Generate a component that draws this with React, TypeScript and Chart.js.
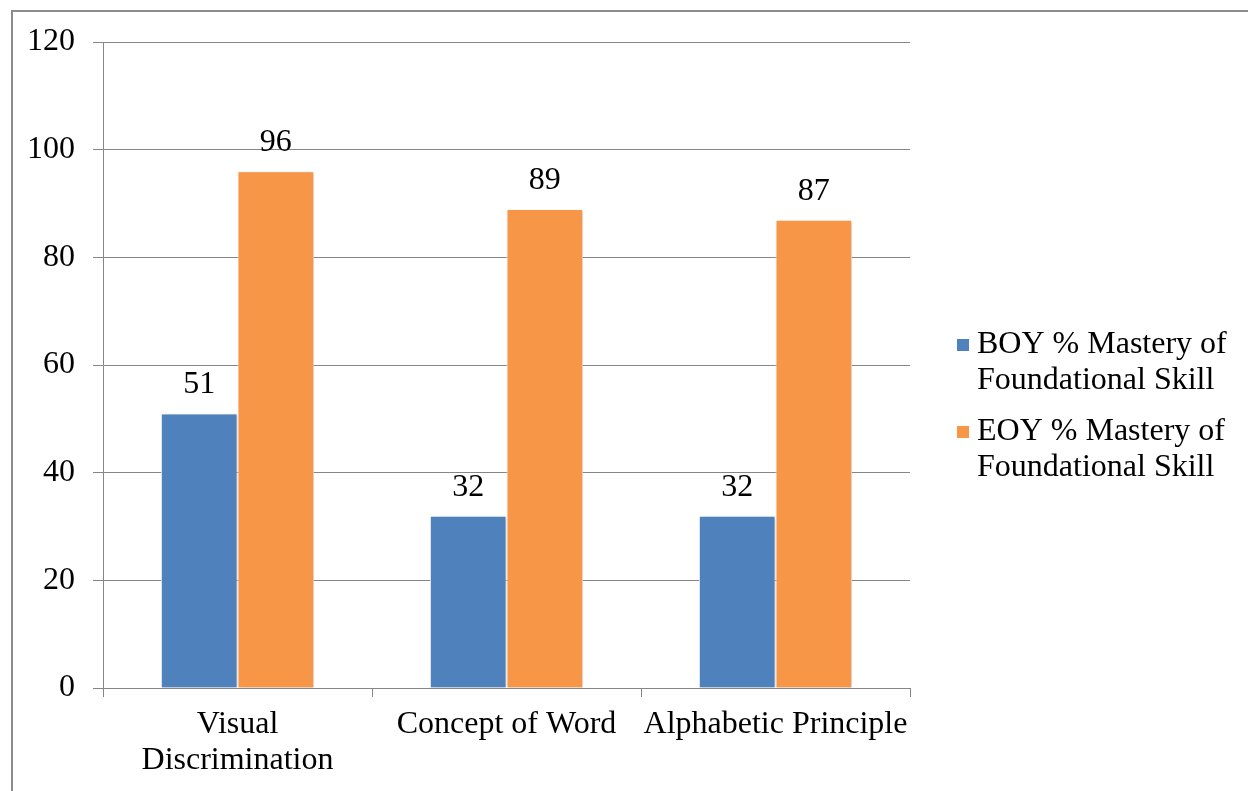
import React, { useEffect, useRef } from "react";
import { Chart, registerables } from "chart.js";

Chart.register(...registerables);

const categories: (string | string[])[] = [["Visual", "Discrimination"], "Concept of Word", "Alphabetic Principle"];
const boyValues = [51, 32, 32];
const eoyValues = [96, 89, 87];
const seriesNames = [
  ["BOY % Mastery of", "Foundational Skill"],
  ["EOY % Mastery of", "Foundational Skill"],
];
const seriesColors = ["#4F81BD", "#F79646"];

const FONT = "'Liberation Serif', 'Times New Roman', serif";

export default function App() {
  const ref = useRef<HTMLCanvasElement | null>(null);

  useEffect(() => {
    document.body.style.margin = "0";
    const canvas = ref.current;
    if (!canvas) return;

    const labelPlugin = {
      id: "valueLabels",
      afterDatasetsDraw(chart: any) {
        const ctx = chart.ctx;
        ctx.save();
        ctx.font = `32px ${FONT}`;
        ctx.fillStyle = "#000";
        ctx.textAlign = "center";
        ctx.textBaseline = "alphabetic";
        chart.data.datasets.forEach((ds: any, di: number) => {
          const meta = chart.getDatasetMeta(di);
          meta.data.forEach((el: any, i: number) => {
            ctx.fillText(String(ds.data[i]), el.x, el.y - 20);
          });
        });
        ctx.restore();
      },
    };

    const shadowPlugin = {
      id: "barShadow",
      beforeDatasetsDraw(chart: any) {
        const ctx = chart.ctx;
        ctx.save();
        ctx.shadowColor = "rgba(0,0,0,0.25)";
        ctx.shadowBlur = 3;
        ctx.shadowOffsetX = 1;
        ctx.shadowOffsetY = 1;
      },
      afterDatasetsDraw(chart: any) {
        chart.ctx.restore();
      },
    };

    const legendPlugin = {
      id: "customLegend",
      afterDraw(chart: any) {
        const ctx = chart.ctx;
        const area = chart.chartArea;
        const boxX = area.right + 47;
        const textX = boxX + 20;
        const lineH = 36;
        const itemGap = 87;
        const startY = (area.top + area.bottom) / 2 - 20;
        ctx.save();
        ctx.font = `32px ${FONT}`;
        ctx.textBaseline = "middle";
        ctx.textAlign = "left";
        seriesNames.forEach((lines, i) => {
          const y0 = startY + i * itemGap;
          ctx.fillStyle = seriesColors[i];
          ctx.fillRect(boxX, y0 - 6, 12, 12);
          ctx.fillStyle = "#000";
          lines.forEach((ln, li) => {
            ctx.fillText(ln, textX, y0 + li * lineH);
          });
        });
        ctx.restore();
      },
    };

    const chart = new Chart(canvas, {
      type: "bar",
      data: {
        labels: categories,
        datasets: [
          {
            label: seriesNames[0].join(" "),
            data: boyValues,
            backgroundColor: seriesColors[0],
            borderColor: "#ffffff",
            borderWidth: 1,
            barPercentage: 1,
            categoryPercentage: 0.57,
          },
          {
            label: seriesNames[1].join(" "),
            data: eoyValues,
            backgroundColor: seriesColors[1],
            borderColor: "#ffffff",
            borderWidth: 1,
            barPercentage: 1,
            categoryPercentage: 0.57,
          },
        ],
      },
      options: {
        responsive: false,
        animation: false,
        devicePixelRatio: 1,
        layout: { padding: { left: 0, top: 42, right: 338, bottom: 0 } },
        plugins: {
          legend: { display: false },
          tooltip: { enabled: false },
        },
        scales: {
          x: {
            offset: true,
            grid: {
              display: true,
              drawOnChartArea: false,
              drawTicks: true,
              tickLength: 9,
              color: "#868686",
              offset: true,
            },
            border: { display: true, color: "#868686", width: 1 },
            ticks: {
              color: "#000",
              font: { family: FONT, size: 32, lineHeight: 1.14 },
              padding: 9,
              maxRotation: 0,
              autoSkip: false,
            },
            afterFit(scale: any) {
              scale.height = 103;
            },
          },
          y: {
            min: 0,
            max: 120,
            ticks: {
              stepSize: 20,
              color: "#000",
              font: { family: FONT, size: 32 },
              padding: 18,
            },
            grid: {
              color: "#868686",
              lineWidth: 1,
              tickLength: 10,
            },
            border: { display: true, color: "#868686", width: 1 },
            afterFit(scale: any) {
              scale.width = 103;
            },
          },
        },
      },
      plugins: [shadowPlugin, labelPlugin, legendPlugin],
    });

    return () => chart.destroy();
  }, []);

  return (
    <div style={{ position: "relative", width: 1248, height: 791, overflow: "hidden", background: "#fff" }}>
      <div
        style={{
          position: "absolute",
          left: 11,
          top: 10,
          width: 1300,
          height: 900,
          borderTop: "2px solid #8c8c8c",
          borderLeft: "2px solid #8c8c8c",
        }}
      />
      <canvas ref={ref} width={1248} height={791} style={{ position: "absolute", left: 0, top: 0, width: 1248, height: 791 }} />
    </div>
  );
}
